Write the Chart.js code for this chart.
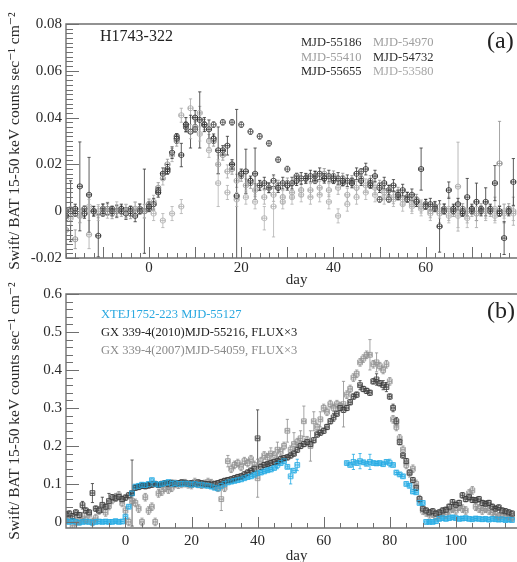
<!DOCTYPE html>
<html>
<head>
<meta charset="utf-8">
<script src="https://cdn.jsdelivr.net/npm/chart.js@4.4.0/dist/chart.umd.min.js"></script>
<style>
  html, body { margin: 0; padding: 0; background: #fff; width: 517px; height: 562px; overflow: hidden; position: relative; }
  canvas { position: absolute; left: 0; }
  #chartA { top: 0; }
  #chartB { top: 276px; }
</style>
</head>
<body>
<canvas id="chartA" width="532" height="290"></canvas>
<canvas id="chartB" width="532" height="290"></canvas>
<script>
// ---------- panel (a): H1743-322, day 0 = start of each outburst ----------
const daysEvenA = [-18,-16,-14,-12,-10,-8,-6,-4,-2,0,2,4,6,8,10,12,14,16,18,20,22,24,26,28,30,32,34,36,38,40,42,44,46,48,50,52,54,56,58,60,62,64,66,68,70,72,74,76,78];
const daysOddA = [-17,-15,-13,-11,-9,-7,-5,-3,-1,1,3,5,7,9,11,13,15,17,19,21,23,25,27,29,31,33,35,37,39,41,43,45,47,49,51,53,55,57,59,61,63,65,67,69,71,73,75,77,79];

const flux55186 = [0.000,-0.001,0.001,0.000,-0.001,0.001,0.000,0.001,0.000,
  0.001,0.009,0.017,0.032,0.036, 0.035,0.037,0.037,0.038,0.038, 0.037,0.034,0.032,0.029,0.022,
  0.018,0.015,0.014,0.013,0.014, 0.013,0.012,0.013,0.017,0.011, 0.005,0.005,0.006,0.005,0.004,
  0.002,0.001,0.000,0.000,-0.001, 0.000,0.001,0.000,-0.001,0.000];
const flux54970 = [0.001,-0.002,-0.010,0.000,0.001,0.000,0.000,0.001,0.000,
  0.004,0.014,0.024,0.041,0.044, 0.042,0.030,0.020,0.017,0.013, 0.011,0.009,0.006,0.007,0.006,
  0.008,0.009,0.009,0.010,0.009, 0.010,0.007,0.010,0.011,0.010, 0.008,0.006,0.005,0.003,0.002,
  0.000,-0.001,0.001,0.0105,0.000, -0.001,0.000,0.001,-0.001,0.000];
const flux55410 = [-0.008,-0.012,0.000,0.000,0.001,-0.001,0.000,-0.001,0.001,
  0.003,0.010,0.020,0.030,0.036, 0.036,0.037,0.030,0.024,0.018, 0.015,0.012,0.011,0.010,0.011,
  0.012,0.014,0.014,0.015,0.016, 0.015,0.014,0.013,0.014,0.013, 0.011,0.009,0.008,0.006,0.005,
  0.003,0.002,0.001,0.000,0.001, 0.000,0.001,0.000,0.0204,0.001];
const flux54732 = [0.000,0.0106,0.007,-0.0105,0.001,0.000,-0.001,-0.002,0.000,
  0.003,0.016,0.025,0.024,0.034, 0.039,0.035,0.026,0.028,0.0065, 0.017,0.016,0.012,0.013,0.012,
  0.012,0.014,0.015,0.016,0.015, 0.014,0.013,0.016,0.018,0.015, 0.012,0.011,0.009,0.007,0.018,
  0.003,-0.0065,0.009,0.003,0.006, 0.004,0.004,0.012,-0.0115,0.0125];
const flux55655 = [-0.002,0.001,-0.001,0.000,0.001,0.000,0.001,0.000,0.001,
  0.002,0.008,0.018,0.031,0.037, 0.040,0.037,0.031,0.026,0.020, 0.016,0.013,0.011,0.010,0.010,
  0.011,0.013,0.014,0.015,0.014, 0.014,0.013,0.012,0.013,0.012, 0.010,0.009,0.007,0.006,0.004,
  0.003,0.002,0.001,0.001,0.000, 0.001,0.000,0.001,0.000,0.000];
const flux53580 = [-0.003,-0.002,0.002,-0.001,0.000,0.001,0.000,0.001,0.000,
  -0.001,-0.004,-0.001,0.002,0.034, 0.033,0.026,0.012,0.008,0.005, 0.006,0.004,-0.003,0.002,0.004,
  0.006,0.007,0.006,0.007,0.004, -0.002,0.003,0.006,0.008,0.007, 0.006,0.005,0.003,0.002,0.001,
  -0.001,0.000,-0.002,-0.002,-0.003, -0.001,0.000,-0.002,0.000,-0.001];

// [day, error] for points whose error bar is larger than the usual one
const bigErr54970 = [[-13,0.006],[7,0.003],[9,0.004],[15,0.004],[25,0.003],[57,0.003],[63,0.004],[65,0.005],[67,0.019],[69,0.005],[71,0.006],[73,0.004],[75,0.005],[77,0.004],[79,0.006]];
const bigErr55410 = [[-18,0.006],[-16,0.004],[76,0.018]];
const bigErr54732 = [[-17,0.013],[-15,0.019],[-13,0.016],[-11,0.009],[-1,0.018],[7,0.005],[9,0.007],[11,0.012],[13,0.004],[15,0.01],[17,0.004],[19,0.037],[21,0.0095],[23,0.011],[59,0.009],[63,0.011],[65,0.0035],[69,0.008],[71,0.008],[73,0.006],[75,0.0075],[77,0.007],[79,0.01]];
const bigErr55655 = [[8,0.003],[10,0.003],[12,0.003]];
const bigErr53580 = [[15,0.01],[25,0.005],[27,0.013],[41,0.003],[67,0.005],[69,0.004]];

const xTicksA = [0, 20, 40, 60];
const xLabelsA = ['0', '20', '40', '60'];
const yTicksA = [-0.02, 0, 0.02, 0.04, 0.06, 0.08];
const yLabelsA = ['-0.02', '0', '0.02', '0.04', '0.06', '0.08'];

// ---------- panel (b): XTE J1752-223 and GX 339-4 ----------
const daysB = [-18,-17,-16,-15,-14,-13,-12,-11,-10,-9,-8,-7,-6,-5,-4,-3,-2,-1,0,1,2,3,4,5,6,7,8,9,10,11,12,13,14,15,16,17,18,19,20,21,22,23,24,25,26,27,28,29,30,31,32,33,34,35,36,37,38,39,40,41,42,43,44,45,46,47,48,49,50,51,52,53,54,55,56,57,58,59,60,61,62,63,64,65,66,67,68,69,70,71,72,73,74,75,76,77,78,79,80,81,82,83,84,85,86,87,88,89,90,91,92,93,94,95,96,97,98,99,100,101,102,103,104,105,106,107,108,109,110,111,112,113,114,115,116,117];
const daysXte = [-18,-17,-16,-15,-14,-13,-12,-11,-10,-9,-8,-7,-6,-5,-4,-3,-2,-1,0,1,2,3,4,5,6,7,8,9,10,11,12,13,14,15,16,17,18,19,20,21,22,23,24,25,26,27,28,29,30,31,32,33,34,35,36,37,38,39,40,41,42,43,44,45,46,47,48,49,50,51,52,
  67,68,69,70,71,72,73,74,75,76,77,78,79,80,81,82,83,84,85,86,87,88,89,90,91,92,93,94,95,96,97,98,99,100,101,102,103,104,105,106,107,108,109,110,111,112,113,114,115,116,117];

const fluxXte = [0.002,0.000,0.002,0.000,-0.002,0.000,0.001,0.000,-0.002,0.000,0.001,0.000,0.001,0.000,0.000,0.002,0.000,0.001,
  0.014,0.040,0.075,0.093,0.095,0.098,0.097,0.100,0.110,0.100,
  0.098,0.100,0.102,0.105,0.100,0.102,0.100,0.100,0.101,0.100,
  0.098,0.100,0.097,0.098,0.096,0.095,0.093,0.090,0.088,0.095,
  0.100,0.104,0.106,0.108,0.110,0.112,0.115,0.118,0.120,0.124,
  0.128,0.130,0.133,0.136,0.138,0.142,0.150,0.155,0.160,0.145,
  0.120,0.135,0.150,
  0.155,0.150,0.158,0.155,0.160,0.157,0.153,0.158,0.155,0.154,
  0.155,0.152,0.158,0.155,0.150,0.130,0.125,0.120,0.100,0.095,
  0.080,0.078,0.050,0.050,0.000,0.000,0.000,0.002,0.008,0.010,
  0.008,0.010,0.012,0.010,0.008,0.009,0.010,0.008,0.007,0.009,
  0.008,0.007,0.008,0.006,0.008,0.007,0.006,0.007,0.005,0.006,
  0.005];
const fluxGx2010 = [0.020,0.022,0.015,0.025,0.018,0.044,0.030,0.025,0.076,0.035,
  0.030,0.045,0.040,0.055,0.065,0.062,0.066,0.060,0.064,0.070,
  0.076,0.090,0.092,0.095,0.094,0.096,0.098,0.100,0.097,0.100,
  0.102,0.100,0.103,0.100,0.102,0.104,0.103,0.100,0.102,0.100,
  0.104,0.102,0.100,0.100,0.098,0.100,0.102,0.105,0.108,0.110,
  0.112,0.115,0.118,0.120,0.125,0.130,0.135,0.140,0.220,0.145,
  0.150,0.152,0.155,0.158,0.160,0.165,0.168,0.170,0.175,0.180,
  0.190,0.200,0.205,0.210,0.205,0.215,0.230,0.235,0.240,0.250,
  0.265,0.275,0.285,0.300,0.295,0.300,0.315,0.330,0.335,0.360,
  0.350,0.345,0.340,0.370,0.375,0.365,0.360,0.355,0.330,0.300,
  0.265,0.210,0.175,0.160,0.130,0.110,0.090,0.060,0.035,0.030,
  0.025,0.028,0.022,0.025,0.030,0.032,0.040,0.052,0.045,0.050,
  0.070,0.060,0.065,0.058,0.057,0.060,0.050,0.048,0.050,0.040,
  0.035,0.038,0.030,0.028,0.025,0.022];
const fluxGx2007 = [0.005,0.012,-0.010,0.000,0.002,0.015,0.005,0.020,0.000,0.010,
  0.030,0.040,0.025,0.042,0.058,0.065,0.070,0.050,0.030,0.000,
  0.055,0.050,0.035,0.000,0.065,0.030,0.040,0.000,0.075,0.080,
  0.090,0.085,0.090,0.100,0.098,0.100,0.102,0.099,0.097,0.105,
  0.100,0.098,0.100,0.105,0.102,0.095,0.090,0.060,0.090,0.160,
  0.140,0.150,0.155,0.145,0.160,0.155,0.165,0.150,0.115,0.160,
  0.175,0.170,0.180,0.175,0.190,0.185,0.200,0.240,0.190,0.205,
  0.210,0.220,0.265,0.215,0.200,0.265,0.250,0.270,0.300,0.290,
  0.310,0.300,0.310,0.305,0.310,0.335,0.350,0.380,0.390,0.420,
  0.430,0.440,0.440,0.415,0.420,0.410,0.400,0.415,0.370,0.270,
  0.250,0.220,0.190,0.150,0.128,0.140,0.100,0.060,0.030,0.025,
  0.020,0.022,0.015,0.020,0.025,0.020,0.030,0.035,0.030,0.040,
  0.035,0.030,0.075,0.083,0.040,0.035,0.030,0.035,0.030,0.025,
  0.020,0.015,0.020,0.018,0.015,0.012];

const bigErrXte = [[46,0.01],[50,0.02],[52,0.015],[69,0.02],[71,0.02],[74,0.02],[80,0.01]];
const bigErrGx2010 = [[-13,0.01],[-10,0.025],[-7,0.02],[-5,0.02],[2,0.087],[40,0.075],[63,0.01],[71,0.012],[76,0.015],[78,0.012],[79,0.012],[81,0.01],[82,0.01]];
const bigErrGx2007 = [[-11,0.01],[29,0.03],[31,0.015],[40,0.05],[44,0.015],[46,0.02],[49,0.03],[51,0.03],[53,0.02],[54,0.04],[56,0.04],[57,0.025],[59,0.02],[66,0.06],[74,0.04],[76,0.025]];

const xTicksB = [0, 20, 40, 60, 80, 100];
const xLabelsB = ['0', '20', '40', '60', '80', '100'];
const yTicksB = [0, 0.1, 0.2, 0.3, 0.4, 0.5, 0.6];
const yLabelsB = ['0', '0.1', '0.2', '0.3', '0.4', '0.5', '0.6'];

const SERIF = "'Liberation Serif', 'DejaVu Serif', serif";

function pts(days, vals) {
    return days.map((d, i) => ({ x: d, y: vals[i] }))
}

// error bars: x error = half a day bin, y error per point
const errorBars = {
    id: 'errorBars',
    beforeDatasetsDraw(chart) {
        const { ctx, chartArea: a, scales: { x, y } } = chart
        ctx.save()
        ctx.beginPath()
        ctx.rect(a.left, a.top, a.right - a.left, a.bottom - a.top)
        ctx.clip()
        chart.data.datasets.forEach(ds => {
            const big = new Map(ds.bigErr || [])
            ctx.strokeStyle = ds.borderColor
            ctx.lineWidth = 0.8
            ctx.beginPath()
            ds.data.forEach(p => {
                const e = big.has(p.x) ? big.get(p.x) : ds.yErr
                const px = x.getPixelForValue(p.x), py = y.getPixelForValue(p.y)
                const x0 = x.getPixelForValue(p.x - ds.xErr), x1 = x.getPixelForValue(p.x + ds.xErr)
                const y0 = y.getPixelForValue(p.y - e), y1 = y.getPixelForValue(p.y + e)
                const c = 1.6
                ctx.moveTo(x0, py); ctx.lineTo(x1, py)
                ctx.moveTo(x0, py - c); ctx.lineTo(x0, py + c)
                ctx.moveTo(x1, py - c); ctx.lineTo(x1, py + c)
                ctx.moveTo(px, y0); ctx.lineTo(px, y1)
                ctx.moveTo(px - c, y0); ctx.lineTo(px + c, y0)
                ctx.moveTo(px - c, y1); ctx.lineTo(px + c, y1)
            })
            ctx.stroke()
        })
        ctx.restore()
    }
}

// box frame + inward minor ticks
const frame = {
    id: 'frame',
    afterDraw(chart, args, o) {
        const { ctx, chartArea: a, scales: { x, y } } = chart
        ctx.save()
        ctx.strokeStyle = '#6f6f6f'
        ctx.lineWidth = 1.4
        ctx.beginPath()
        ctx.moveTo(a.right, a.top); ctx.lineTo(a.left, a.top)
        ctx.lineTo(a.left, a.bottom); ctx.lineTo(a.right, a.bottom)
        ctx.stroke()
        ctx.lineWidth = 1
        ctx.beginPath()
        const k0 = Math.ceil(y.min / o.yStep - 1e-6), k1 = Math.floor(y.max / o.yStep + 1e-6)
        for (let k = k0; k <= k1; k++) {
            const v = k * o.yStep
            const r = v / o.yMajor
            const len = Math.abs(r - Math.round(r)) < 1e-6 ? o.yMajorLen : o.yMinorLen
            const py = Math.round(y.getPixelForValue(v)) + 0.5
            ctx.moveTo(a.left, py); ctx.lineTo(a.left + len, py)
        }
        const j0 = Math.ceil(x.min / o.xStep - 1e-6), j1 = Math.floor(x.max / o.xStep + 1e-6)
        for (let j = j0; j <= j1; j++) {
            const v = j * o.xStep
            const r = v / o.xMajor
            const len = Math.abs(r - Math.round(r)) < 1e-6 ? o.xMajorLen : o.xMinorLen
            const px = Math.round(x.getPixelForValue(v)) + 0.5
            ctx.moveTo(px, a.bottom); ctx.lineTo(px, a.bottom - len)
        }
        ctx.stroke()
        ctx.restore()
    }
}

// panel labels and the text legends
const notes = {
    id: 'notes',
    afterDraw(chart, args, o) {
        const ctx = chart.ctx
        ctx.save()
        ctx.textBaseline = 'middle'
        ctx.textAlign = 'left'
        o.items.forEach(t => {
            ctx.font = t.size + 'px ' + SERIF
            ctx.fillStyle = t.color
            ctx.fillText(t.text, t.x, t.y)
        })
        const ds = chart.data.datasets
        o.legend.forEach((lab, i) => {
            const d = ds.find(s => s.label === lab)
            ctx.font = o.legendSize + 'px ' + SERIF
            ctx.fillStyle = d.textColor
            ctx.fillText(lab, o.legendX[i % o.legendX.length], o.legendY[Math.floor(i / o.legendX.length)])
        })
        ctx.restore()
    }
}

function makeScales(cfg) {
    return {
        x: {
            type: 'linear', min: cfg.xMin, max: cfg.xMax,
            grid: { display: false, drawTicks: false }, border: { display: false },
            afterBuildTicks: s => { s.ticks = cfg.xTicks.map(v => ({ value: v })) },
            afterFit: s => { s.height = cfg.xHeight },
            ticks: { font: { family: SERIF, size: 15 }, color: '#2a2a2a', padding: cfg.xPad, maxRotation: 0,
                     callback: (v, i) => cfg.xLabels[i] },
            title: { display: true, text: 'day', font: { family: SERIF, size: 15 }, color: '#2a2a2a',
                     padding: { top: 0, bottom: cfg.titlePad } }
        },
        y: {
            type: 'linear', min: cfg.yMin, max: cfg.yMax,
            grid: { display: false, drawTicks: false }, border: { display: false },
            afterBuildTicks: s => { s.ticks = cfg.yTicks.map(v => ({ value: v })) },
            afterFit: s => { s.width = 66 },
            ticks: { font: { family: SERIF, size: 15 }, color: '#2a2a2a', padding: 4,
                     callback: (v, i) => cfg.yLabels[i] },
            title: { display: true, text: 'Swift/ BAT 15-50 keV counts sec⁻¹ cm⁻²',
                     font: { family: SERIF, size: 15.5 }, color: '#2a2a2a', padding: { top: 6, bottom: 0 } }
        }
    }
}

function series(label, days, vals, color, textColor, yErr, bigErr, style) {
    return {
        label: label, data: pts(days, vals),
        borderColor: color, backgroundColor: 'rgba(0,0,0,0)', textColor: textColor,
        pointStyle: style, pointRadius: style === 'rect' ? 3.4 : 2.6, borderWidth: 0.8,
        xErr: 0.5, yErr: yErr, bigErr: bigErr
    }
}

new Chart(document.getElementById('chartA'), {
    type: 'scatter',
    data: {
        datasets: [
            series('MJD-55186', daysEvenA, flux55186, '#555555', '#2d2d2d', 0.0012, [], 'circle'),
            series('MJD-54970', daysOddA, flux54970, '#a8a8a8', '#9e9e9e', 0.0028, bigErr54970, 'circle'),
            series('MJD-55410', daysEvenA, flux55410, '#8e8e8e', '#9e9e9e', 0.0022, bigErr55410, 'circle'),
            series('MJD-54732', daysOddA, flux54732, '#333333', '#2d2d2d', 0.0025, bigErr54732, 'circle'),
            series('MJD-55655', daysEvenA, flux55655, '#262626', '#1e1e1e', 0.002, bigErr55655, 'circle'),
            series('MJD-53580', daysOddA, flux53580, '#b3b3b3', '#a8a8a8', 0.003, bigErr53580, 'circle')
        ]
    },
    options: {
        responsive: false, animation: false,
        layout: { padding: { top: 24, left: 0, right: 0, bottom: 0 } },
        plugins: {
            legend: { display: false }, tooltip: { enabled: false },
            frame: { xStep: 2, xMajor: 10, yStep: 0.002, yMajor: 0.02, xMajorLen: 11, xMinorLen: 5, yMajorLen: 13, yMinorLen: 7 },
            notes: {
                items: [
                    { text: 'H1743-322', x: 100, y: 37, size: 16, color: '#222' },
                    { text: '(a)', x: 487, y: 42, size: 24, color: '#222' }
                ],
                legend: ['MJD-55186', 'MJD-54970', 'MJD-55410', 'MJD-54732', 'MJD-55655', 'MJD-53580'],
                legendX: [301, 373], legendY: [43, 57.5, 72], legendSize: 12.5
            }
        },
        scales: makeScales({ xMin: -18, xMax: 82, yMin: -0.02, yMax: 0.08, xTicks: xTicksA, xLabels: xLabelsA,
                             yTicks: yTicksA, yLabels: yLabelsA, xHeight: 32, xPad: 1, titlePad: 1 })
    },
    plugins: [errorBars, frame, notes]
})

new Chart(document.getElementById('chartB'), {
    type: 'scatter',
    data: {
        datasets: [
            series('XTEJ1752-223 MJD-55127', daysXte, fluxXte, '#22a9e3', '#29a8e0', 0.005, bigErrXte, 'rect'),
            series('GX 339-4(2010)MJD-55216, FLUX×3', daysB, fluxGx2010, '#3a3a3a', '#222', 0.007, bigErrGx2010, 'rect'),
            series('GX 339-4(2007)MJD-54059, FLUX×3', daysB, fluxGx2007, '#8e8e8e', '#8a8a8a', 0.01, bigErrGx2007, 'rect')
        ]
    },
    options: {
        responsive: false, animation: false,
        layout: { padding: { top: 18, left: 0, right: 0, bottom: 0 } },
        plugins: {
            legend: { display: false }, tooltip: { enabled: false },
            frame: { xStep: 5, xMajor: 20, yStep: 0.02, yMajor: 0.1, xMajorLen: 11, xMinorLen: 5, yMajorLen: 13, yMinorLen: 7 },
            notes: {
                items: [ { text: '(b)', x: 487, y: 36, size: 24, color: '#222' } ],
                legend: ['XTEJ1752-223 MJD-55127', 'GX 339-4(2010)MJD-55216, FLUX×3', 'GX 339-4(2007)MJD-54059, FLUX×3'],
                legendX: [101], legendY: [39, 57, 75], legendSize: 12.5
            }
        },
        scales: makeScales({ xMin: -18, xMax: 121.6, yMin: -0.016, yMax: 0.6, xTicks: xTicksB, xLabels: xLabelsB,
                             yTicks: yTicksB, yLabels: yLabelsB, xHeight: 38, xPad: 4, titlePad: 1 })
    },
    plugins: [errorBars, frame, notes]
})
</script>
</body>
</html>
